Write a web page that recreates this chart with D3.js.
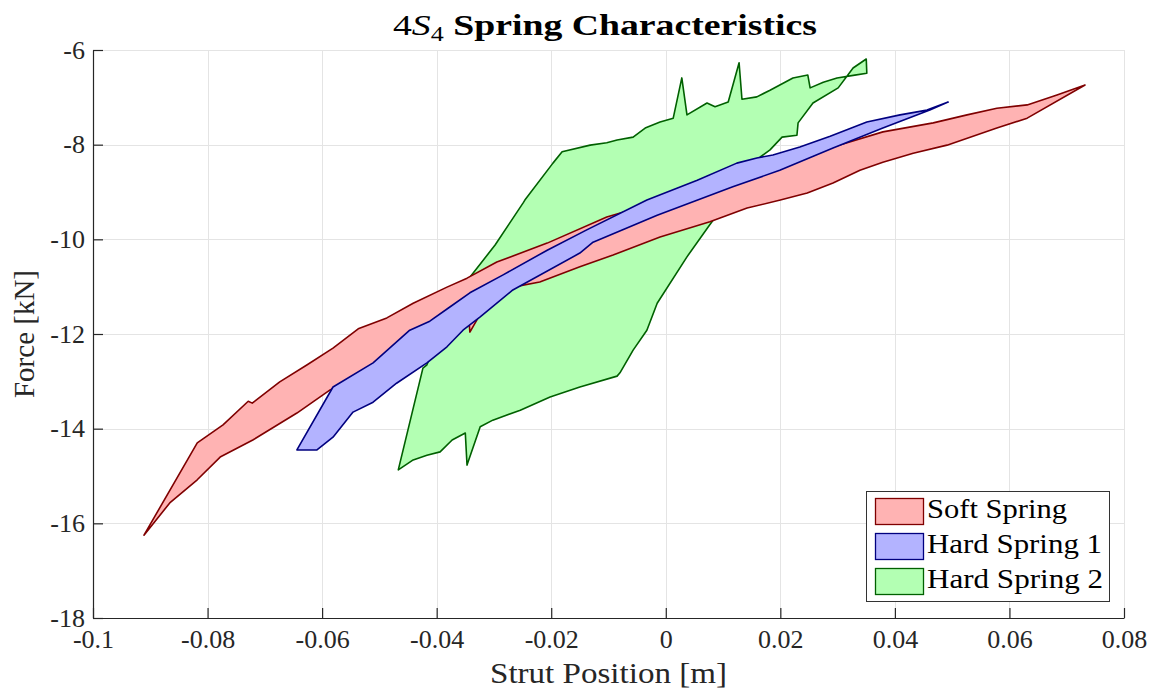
<!DOCTYPE html>
<html>
<head>
<meta charset="utf-8">
<script src="https://cdn.jsdelivr.net/npm/d3@7"></script>
<style>
  html, body { margin: 0; padding: 0; background: #ffffff; }
  svg { display: block; }
</style>
</head>
<body>
<svg id="chart" width="1153" height="691"></svg>
<script>
// Axis ticks
const xTicks = [-0.1, -0.08, -0.06, -0.04, -0.02, 0, 0.02, 0.04, 0.06, 0.08];
const yTicks = [-18, -16, -14, -12, -10, -8, -6];

// Series names, in legend order
const seriesNames = ["Soft Spring", "Hard Spring 1", "Hard Spring 2"];

// Hysteresis loops: [strut position (m), force (kN)], traced as closed outlines
const softSpring = [
  [-0.0911, -16.25], [-0.0818, -14.30], [-0.0773, -13.92], [-0.0729, -13.42],
  [-0.0722, -13.46], [-0.0674, -13.01], [-0.0626, -12.65], [-0.0581, -12.30],
  [-0.0537, -11.89], [-0.0487, -11.66], [-0.0441, -11.35], [-0.0382, -11.01],
  [-0.0347, -10.82], [-0.0295, -10.48], [-0.0207, -10.08], [-0.0103, -9.53],
  [-0.0045, -9.32], [0.0042, -9.04], [0.0130, -8.68], [0.0217, -8.28],
  [0.0292, -8.05], [0.0379, -7.73], [0.0467, -7.54], [0.0526, -7.37],
  [0.0578, -7.23], [0.0631, -7.16], [0.0683, -6.95], [0.0732, -6.74],
  [0.0631, -7.44], [0.0578, -7.65], [0.0491, -8.01], [0.0432, -8.18],
  [0.0379, -8.37], [0.0339, -8.54], [0.0292, -8.81], [0.0247, -9.02],
  [0.0200, -9.17], [0.0142, -9.34], [0.0077, -9.63], [-0.0010, -9.95],
  [-0.0092, -10.33], [-0.0150, -10.58], [-0.0220, -10.90], [-0.0267, -11.01],
  [-0.0307, -11.22], [-0.0342, -11.96], [-0.0344, -11.66], [-0.0429, -12.23],
  [-0.0586, -13.18], [-0.0644, -13.67], [-0.0721, -14.24], [-0.0778, -14.60],
  [-0.0818, -15.08], [-0.0866, -15.57]
];

const hardSpring1 = [
  [-0.0644, -14.45], [-0.0581, -13.12], [-0.0511, -12.61], [-0.0447, -11.92],
  [-0.0412, -11.73], [-0.0377, -11.43], [-0.0342, -11.13], [-0.0284, -10.75],
  [-0.0207, -10.23], [-0.0138, -9.80], [-0.0033, -9.17], [0.0055, -8.75],
  [0.0124, -8.39], [0.0159, -8.28], [0.0187, -8.22], [0.0234, -8.05],
  [0.0287, -7.82], [0.0351, -7.52], [0.0409, -7.37], [0.0456, -7.27],
  [0.0493, -7.10],
  [0.0461, -7.27], [0.0379, -7.65], [0.0292, -8.07], [0.0199, -8.54],
  [0.0117, -8.89], [-0.0015, -9.49], [-0.0127, -10.06], [-0.0150, -10.29],
  [-0.0267, -11.07], [-0.0324, -11.64], [-0.0354, -11.92], [-0.0382, -12.27],
  [-0.0417, -12.61], [-0.0470, -13.04], [-0.0511, -13.44], [-0.0546, -13.65],
  [-0.0581, -14.18], [-0.0609, -14.45]
];

const hardSpring2 = [
  [-0.0467, -14.87], [-0.0424, -12.72], [-0.0417, -12.65], [-0.0403, -12.23],
  [-0.0373, -11.54], [-0.0342, -10.80], [-0.0298, -10.12], [-0.0249, -9.23],
  [-0.0246, -9.17], [-0.0197, -8.39], [-0.0181, -8.15], [-0.0132, -8.01],
  [-0.0103, -7.96], [-0.0085, -7.90], [-0.0057, -7.84], [-0.0036, -7.65],
  [-0.0010, -7.52], [0.0013, -7.44], [0.0028, -6.59], [0.0037, -7.37],
  [0.0072, -7.12], [0.0086, -7.20], [0.0109, -7.10], [0.0128, -6.27],
  [0.0133, -7.04], [0.0159, -6.99], [0.0182, -6.85], [0.0222, -6.59],
  [0.0248, -6.53], [0.0252, -6.80], [0.0275, -6.68], [0.0299, -6.59],
  [0.0330, -6.53], [0.0351, -6.49], [0.0350, -6.19],
  [0.0327, -6.38], [0.0301, -6.80], [0.0257, -7.12], [0.0231, -7.54],
  [0.0229, -7.80], [0.0203, -7.84], [0.0182, -8.11], [0.0165, -8.26],
  [0.0121, -8.96], [0.0074, -9.74], [0.0037, -10.37], [-0.0015, -11.35],
  [-0.0033, -11.92], [-0.0057, -12.34], [-0.0080, -12.82], [-0.0085, -12.89],
  [-0.0150, -13.12], [-0.0202, -13.33], [-0.0254, -13.61], [-0.0302, -13.82],
  [-0.0324, -13.96], [-0.0347, -14.77], [-0.0350, -14.09], [-0.0373, -14.24],
  [-0.0394, -14.49], [-0.0417, -14.56], [-0.0441, -14.66]
];

const fillColors = ["#ffb3b3", "#b3b3ff", "#b3ffb3"];
const edgeColors = ["#7f0000", "#00007f", "#006000"];
const SERIF = "Liberation Serif, Tinos, DejaVu Serif, serif";

const svg = d3.select("#chart");
const plot = { left: 93, right: 1124, top: 50, bottom: 618 };

const x = d3.scaleLinear().domain([-0.1, 0.08]).range([plot.left, plot.right]);
const y = d3.scaleLinear().domain([-18, -6]).range([plot.bottom, plot.top]);

const fmt = d => String(+d.toFixed(2));

// Grid
const grid = svg.append("g").attr("stroke", "#e4e4e4").attr("stroke-width", 1);
grid.selectAll("line.gx").data(xTicks).join("line")
  .attr("x1", d => Math.round(x(d)) + 0.5).attr("x2", d => Math.round(x(d)) + 0.5)
  .attr("y1", plot.top).attr("y2", plot.bottom);
grid.selectAll("line.gy").data(yTicks).join("line")
  .attr("y1", d => Math.round(y(d)) + 0.5).attr("y2", d => Math.round(y(d)) + 0.5)
  .attr("x1", plot.left).attr("x2", plot.right);

// Loops: drawn so that the stiffest loop sits underneath
const line = d3.line().x(d => x(d[0])).y(d => y(d[1])).curve(d3.curveLinearClosed);
const layers = [
  { data: hardSpring2, i: 2 },
  { data: softSpring, i: 0 },
  { data: hardSpring1, i: 1 }
];
svg.append("g").selectAll("path").data(layers).join("path")
  .attr("d", d => line(d.data))
  .attr("fill", d => fillColors[d.i])
  .attr("stroke", d => edgeColors[d.i])
  .attr("stroke-width", 1.6)
  .attr("stroke-linejoin", "round");

// Axes
const xAxis = svg.append("g")
  .attr("transform", `translate(0,${plot.bottom})`)
  .call(d3.axisBottom(x).tickValues(xTicks).tickFormat(fmt)
    .tickSizeInner(-10).tickSizeOuter(0).tickPadding(12));
const yAxis = svg.append("g")
  .attr("transform", `translate(${plot.left},0)`)
  .call(d3.axisLeft(y).tickValues(yTicks).tickFormat(fmt)
    .tickSizeInner(-10).tickSizeOuter(0).tickPadding(8));
[xAxis, yAxis].forEach(a => {
  a.attr("font-family", SERIF).attr("font-size", 26);
  a.select(".domain").attr("stroke", "#262626").attr("stroke-width", 1.2);
  a.selectAll(".tick line").attr("stroke", "#262626").attr("stroke-width", 1.2);
  a.selectAll(".tick text")
    .attr("fill", "#262626")
    .attr("font-family", SERIF)
    .attr("font-size", 26);
});

// Axis labels
svg.append("text")
  .attr("x", (plot.left + plot.right) / 2).attr("y", 683)
  .attr("text-anchor", "middle")
  .attr("font-family", SERIF).attr("font-size", 29).attr("fill", "#262626")
  .attr("textLength", 237).attr("lengthAdjust", "spacingAndGlyphs")
  .text("Strut Position [m]");
svg.append("text")
  .attr("transform", `translate(34,${(plot.top + plot.bottom) / 2}) rotate(-90)`)
  .attr("text-anchor", "middle")
  .attr("font-family", SERIF).attr("font-size", 29).attr("fill", "#262626")
  .attr("textLength", 128).attr("lengthAdjust", "spacingAndGlyphs")
  .text("Force [kN]");

// Title: 4S_4 in math style followed by bold text
const title = svg.append("text")
  .attr("x", 605).attr("y", 35)
  .attr("text-anchor", "middle")
  .attr("font-family", SERIF).attr("font-size", 29).attr("fill", "#000")
  .attr("textLength", 424).attr("lengthAdjust", "spacingAndGlyphs");
title.append("tspan").text("4");
title.append("tspan").attr("font-style", "italic").text("S");
title.append("tspan").attr("dy", 6).attr("font-size", 20).text("4");
title.append("tspan").attr("dy", -6).attr("font-weight", "bold").text(" Spring Characteristics");

// Legend
const legend = svg.append("g");
legend.append("rect")
  .attr("x", 866.5).attr("y", 491.5).attr("width", 243).attr("height", 110)
  .attr("fill", "#fff").attr("stroke", "#333").attr("stroke-width", 1);
const legendWidths = [140, 175, 176];
seriesNames.forEach((name, i) => {
  const top = 498 + i * 35;
  legend.append("rect")
    .attr("x", 875.5).attr("y", top + 0.5).attr("width", 48).attr("height", 26)
    .attr("fill", fillColors[i]).attr("stroke", edgeColors[i]).attr("stroke-width", 1.3);
  legend.append("text")
    .attr("x", 927).attr("y", top + 19.5)
    .attr("font-family", SERIF).attr("font-size", 27).attr("fill", "#000")
    .attr("textLength", legendWidths[i]).attr("lengthAdjust", "spacingAndGlyphs")
    .text(name);
});
</script>
</body>
</html>
